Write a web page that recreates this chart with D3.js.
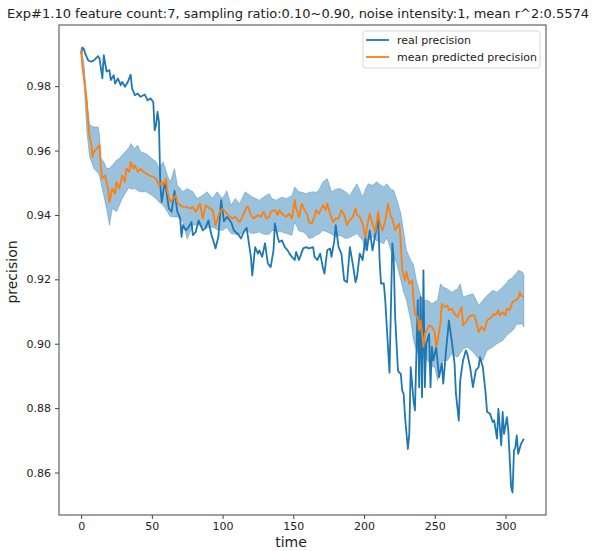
<!DOCTYPE html>
<html>
<head>
<meta charset="utf-8">
<script src="https://cdn.jsdelivr.net/npm/d3@7"></script>
<style>
  body { margin: 0; background: #fff; }
  text { font-family: "DejaVu Sans", sans-serif; fill: #222; }
</style>
</head>
<body>
<div id="chart"></div>
<script>
// real precision
var realTime = [0,1,2,3,5,7,9,12,13,15,16,18,20,21,23,24,26,28,29,31,33,35,36,38,40,42,45,47,49,51,52,53,54,55,56,57,59,60,62,64,66,68,70,71,72,74,76,78,79,81,83,86,88,90,92,94,95,97,99,101,103,106,108,111,113,115,117,118,120,121,123,125,126,128,130,132,134,136,137,139,140,142,144,146,148,151,152,154,157,159,161,164,165,167,169,171,172,174,176,177,179,180,182,184,186,188,190,192,194,195,197,199,201,202,204,206,208,210,211,212,214,215,218,220,221,222,224,225,226,227,228,229,231,232,233,235,236,238,239,240,241,242,243,244,246,247,248,249,251,253,255,256,258,260,262,264,265,267,268,270,272,273,275,277,279,281,282,284,286,287,289,291,292,294,295,297,298,299,301,302,304,305,306,307,308,309,311,313];
var realValue = [0.990,0.992,0.9915,0.990,0.988,0.9876,0.988,0.9893,0.9886,0.9824,0.9896,0.9845,0.985,0.9819,0.9834,0.9808,0.9824,0.9803,0.9813,0.9798,0.9813,0.9836,0.9793,0.9772,0.9777,0.9767,0.9774,0.9756,0.9762,0.9751,0.9663,0.9679,0.972,0.9689,0.949,0.944,0.950,0.9483,0.942,0.941,0.9475,0.941,0.939,0.9332,0.9368,0.9352,0.9362,0.9378,0.9337,0.9347,0.9383,0.9352,0.936,0.9383,0.934,0.9312,0.9296,0.9332,0.9446,0.938,0.9394,0.9378,0.9352,0.934,0.9327,0.9347,0.936,0.933,0.927,0.9212,0.930,0.928,0.929,0.927,0.9312,0.9249,0.9238,0.929,0.9374,0.933,0.9316,0.9321,0.930,0.929,0.9275,0.926,0.9285,0.926,0.9296,0.930,0.9296,0.930,0.927,0.926,0.928,0.9234,0.9218,0.929,0.9296,0.927,0.9321,0.9368,0.930,0.928,0.9197,0.9191,0.930,0.9249,0.9191,0.9207,0.928,0.926,0.933,0.929,0.9352,0.929,0.934,0.939,0.926,0.9187,0.9187,0.9135,0.891,0.9312,0.926,0.9083,0.8917,0.891,0.8907,0.8854,0.8844,0.8772,0.8673,0.872,0.8927,0.8824,0.8793,0.9135,0.8865,0.9145,0.8834,0.9228,0.8865,0.900,0.9031,0.8865,0.899,0.8948,0.899,0.8896,0.8938,0.8876,0.8979,0.9072,0.901,0.8938,0.8844,0.8761,0.8886,0.8948,0.8979,0.8969,0.8927,0.8865,0.8917,0.8927,0.8958,0.8927,0.8844,0.8788,0.8783,0.8757,0.8762,0.8705,0.8798,0.8684,0.8788,0.872,0.8772,0.8731,0.8554,0.8538,0.8668,0.8678,0.8715,0.8658,0.8689,0.8705];

// mean predicted precision
var meanTime = [0,1,2,4,5,6,7,8,9,11,13,14,15,17,19,20,22,24,25,27,29,31,32,34,35,37,38,40,42,44,46,48,51,53,55,57,58,60,61,63,65,67,68,70,72,74,77,79,81,84,86,88,91,93,95,98,100,102,105,107,109,112,114,117,118,120,122,125,127,129,131,133,134,137,139,140,142,145,147,149,151,152,154,156,158,160,161,163,165,166,168,171,173,174,176,178,180,182,184,186,188,189,192,194,195,197,199,201,202,204,206,208,210,211,213,215,217,219,220,222,224,225,226,227,229,230,232,234,235,236,238,239,240,242,243,245,246,248,250,251,252,254,255,257,259,260,262,264,266,267,269,270,272,274,276,278,280,281,283,285,287,289,292,293,295,296,298,300,301,303,305,307,309,310,311,313];
var meanValue = [0.9912,0.9855,0.9824,0.9751,0.9689,0.9637,0.9627,0.958,0.9596,0.9606,0.9617,0.9544,0.9513,0.9523,0.9482,0.944,0.9482,0.9466,0.9502,0.9482,0.9523,0.9502,0.9544,0.9534,0.9565,0.9544,0.9554,0.9534,0.9544,0.9534,0.9529,0.9523,0.9518,0.9513,0.9492,0.9502,0.9492,0.9513,0.9472,0.944,0.9451,0.9461,0.944,0.943,0.9425,0.9425,0.942,0.9425,0.941,0.9435,0.9389,0.943,0.942,0.9415,0.9368,0.941,0.942,0.941,0.9394,0.9389,0.9394,0.9378,0.9394,0.9425,0.9425,0.940,0.9389,0.940,0.9394,0.941,0.9389,0.9394,0.941,0.9415,0.940,0.9415,0.9404,0.9394,0.9404,0.9389,0.9446,0.942,0.9394,0.9435,0.9415,0.940,0.9378,0.9373,0.9394,0.9415,0.9404,0.943,0.9415,0.9435,0.9404,0.9378,0.9389,0.9389,0.9415,0.940,0.9368,0.9378,0.9394,0.942,0.940,0.9394,0.9373,0.933,0.9362,0.9404,0.9373,0.9347,0.941,0.9378,0.9352,0.9383,0.9435,0.9394,0.9389,0.9352,0.9368,0.9373,0.9311,0.9228,0.9197,0.9223,0.9186,0.9197,0.9135,0.9093,0.9083,0.9041,0.9072,0.899,0.9031,0.9047,0.9057,0.9052,0.9036,0.899,0.901,0.9062,0.9124,0.9114,0.9119,0.9104,0.9109,0.9093,0.9083,0.9093,0.9114,0.9057,0.9067,0.9083,0.9088,0.9088,0.9057,0.9036,0.9052,0.9041,0.9072,0.9078,0.9093,0.9088,0.9104,0.9088,0.9098,0.9088,0.9109,0.9104,0.913,0.9135,0.914,0.916,0.915,0.9145];

// spread of the predictions (shaded band)
var bandTime = [0,2,4,6,9,12,13,14,16,18,20,22,25,27,29,32,34,35,38,40,42,46,50,53,55,58,61,63,66,68,72,75,79,82,86,89,93,96,100,103,106,109,112,116,121,126,129,133,135,138,142,145,147,149,151,154,157,159,161,164,166,168,171,174,177,180,183,187,190,192,195,199,201,203,206,209,211,214,216,219,221,223,226,228,230,233,235,237,241,245,248,250,252,254,256,259,262,266,268,270,273,277,280,281,284,287,291,294,298,301,302,305,306,308,309,312,313];
var bandLow = [0.990,0.982,0.966,0.958,0.9544,0.953,0.952,0.950,0.946,0.942,0.9368,0.942,0.941,0.943,0.9451,0.9472,0.9487,0.948,0.9482,0.9475,0.9472,0.9472,0.9461,0.945,0.944,0.943,0.941,0.9395,0.9394,0.9394,0.9378,0.9325,0.9368,0.937,0.9362,0.936,0.9362,0.9355,0.9352,0.9362,0.9342,0.934,0.9337,0.9352,0.9342,0.9347,0.934,0.934,0.9352,0.935,0.9347,0.9342,0.934,0.9337,0.9378,0.935,0.9347,0.934,0.9327,0.933,0.9337,0.934,0.9352,0.9347,0.934,0.9332,0.9337,0.9327,0.933,0.9335,0.9342,0.9321,0.929,0.932,0.9332,0.932,0.9316,0.9311,0.933,0.929,0.927,0.925,0.9197,0.916,0.9135,0.9072,0.901,0.898,0.8958,0.8948,0.893,0.8927,0.8886,0.892,0.8948,0.8948,0.8969,0.8958,0.897,0.8984,0.899,0.8974,0.8958,0.8955,0.8948,0.8979,0.899,0.900,0.901,0.9026,0.903,0.9041,0.9045,0.9062,0.906,0.9062,0.9052];
var bandHigh = [0.992,0.987,0.976,0.968,0.9673,0.9673,0.9648,0.9576,0.9565,0.9544,0.9545,0.9554,0.957,0.9575,0.9586,0.960,0.961,0.9622,0.9606,0.9617,0.9596,0.959,0.9575,0.9565,0.9544,0.9565,0.9523,0.9502,0.9544,0.9492,0.9472,0.9482,0.9472,0.9451,0.9461,0.9472,0.9451,0.9472,0.9451,0.9475,0.943,0.9451,0.9435,0.9472,0.9456,0.9446,0.9456,0.9466,0.945,0.9446,0.9456,0.945,0.9456,0.946,0.9487,0.9472,0.947,0.9466,0.947,0.9472,0.947,0.9477,0.9503,0.9513,0.9472,0.948,0.9482,0.9472,0.946,0.9477,0.9497,0.9456,0.948,0.9497,0.9492,0.9503,0.9495,0.9487,0.9497,0.948,0.9477,0.945,0.9405,0.935,0.929,0.926,0.9245,0.9197,0.9135,0.9135,0.9124,0.913,0.9135,0.9186,0.9176,0.917,0.916,0.917,0.9186,0.9145,0.915,0.9155,0.913,0.9119,0.9135,0.915,0.9166,0.916,0.9176,0.919,0.9197,0.9205,0.9212,0.922,0.9228,0.9223,0.9212];

var xTicks = [0, 50, 100, 150, 200, 250, 300];
var yTicks = [0.86, 0.88, 0.90, 0.92, 0.94, 0.96, 0.98];
var titleText = "Exp#1.10 feature count:7, sampling ratio:0.10~0.90, noise intensity:1, mean r^2:0.5574";
var seriesNames = ["real precision", "mean predicted precision"];
var seriesColors = ["#1f77b4", "#ff7f0e"];

var svgW = 596, svgH = 551;
var margin = { top: 25, right: 50, bottom: 36, left: 59 };
var w = svgW - margin.left - margin.right;
var h = svgH - margin.top - margin.bottom;

var svg = d3.select("#chart").append("svg")
    .attr("width", svgW)
    .attr("height", svgH);

var g = svg.append("g")
    .attr("transform", `translate(${margin.left}, ${margin.top})`);

var x = d3.scaleLinear().domain([-15.65, 328.65]).range([0, w]);
var y = d3.scaleLinear().domain([0.8468, 0.999]).range([h, 0]);

var real = realTime.map((t, i) => ({ t: t, v: realValue[i] }));
var mean = meanTime.map((t, i) => ({ t: t, v: meanValue[i] }));
var band = bandTime.map((t, i) => ({ t: t, lo: bandLow[i], hi: bandHigh[i] }));

// shaded band
g.append("path")
    .datum(band)
    .attr("fill", "#1f77b4")
    .attr("fill-opacity", 0.45)
    .attr("stroke", "#1f77b4")
    .attr("stroke-opacity", 0.35)
    .attr("stroke-width", 1)
    .attr("d", d3.area().x(d => x(d.t)).y0(d => y(d.lo)).y1(d => y(d.hi)));

var line = d3.line().x(d => x(d.t)).y(d => y(d.v));

g.append("path")
    .datum(real)
    .attr("fill", "none")
    .attr("stroke", seriesColors[0])
    .attr("stroke-width", 1.8)
    .attr("stroke-linejoin", "round")
    .attr("d", line);

g.append("path")
    .datum(mean)
    .attr("fill", "none")
    .attr("stroke", seriesColors[1])
    .attr("stroke-width", 1.8)
    .attr("stroke-linejoin", "round")
    .attr("d", line);

// axes
var xAxis = g.append("g")
    .attr("transform", `translate(0, ${h})`)
    .call(d3.axisBottom(x).tickValues(xTicks).tickSize(4).tickPadding(3).tickFormat(d3.format("d")));
var yAxis = g.append("g")
    .call(d3.axisLeft(y).tickValues(yTicks).tickSize(4).tickPadding(4).tickFormat(d3.format(".2f")));

[xAxis, yAxis].forEach(function(a) {
    a.select(".domain").remove();
    a.selectAll("line").attr("stroke", "#444");
    a.selectAll("text").style("font-size", "11px").style("font-family", "DejaVu Sans, sans-serif").attr("fill", "#222");
});

// frame
g.append("rect")
    .attr("width", w)
    .attr("height", h)
    .attr("fill", "none")
    .attr("stroke", "#444")
    .attr("stroke-width", 1);

// title and labels
svg.append("text")
    .attr("x", 298)
    .attr("y", 18)
    .attr("text-anchor", "middle")
    .style("font-size", "13px")
    .text(titleText);

svg.append("text")
    .attr("x", 291)
    .attr("y", 547)
    .attr("text-anchor", "middle")
    .style("font-size", "14px")
    .text("time");

svg.append("text")
    .attr("transform", "rotate(-90)")
    .attr("x", -272)
    .attr("y", 17)
    .attr("text-anchor", "middle")
    .style("font-size", "14px")
    .text("precision");

// legend
var legend = svg.append("g").attr("transform", "translate(363, 31)");
legend.append("rect")
    .attr("width", 177)
    .attr("height", 37)
    .attr("rx", 3)
    .attr("fill", "#fff")
    .attr("fill-opacity", 0.8)
    .attr("stroke", "#d6d6d6");

seriesNames.forEach(function(name, i) {
    var ly = 9 + i * 17;
    legend.append("line")
        .attr("x1", 3).attr("x2", 26)
        .attr("y1", ly).attr("y2", ly)
        .attr("stroke", seriesColors[i])
        .attr("stroke-width", 1.8);
    legend.append("text")
        .attr("x", 34)
        .attr("y", ly + 4)
        .style("font-size", "11px")
        .text(name);
});
</script>
</body>
</html>
